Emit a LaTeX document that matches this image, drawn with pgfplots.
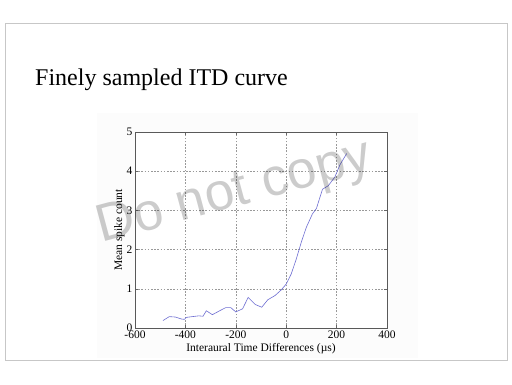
\documentclass[border=0pt]{standalone}
\usepackage{fontspec}
\setmainfont{Liberation Serif}
\newfontfamily\wmfont{Liberation Sans}
\usepackage{pgfplots}
\pgfplotsset{compat=1.18}
\definecolor{curve}{RGB}{110,110,210}
\begin{document}
\begin{tikzpicture}[x=1pt,y=1pt]
\fill[white] (0,0) rectangle (512,384);
% slide frame with shadow
\fill[black!12] (6,23) rectangle (508,360);
\filldraw[fill=white,draw=black!22,line width=0.8pt] (5,24) rectangle (507,361);
\fill[black!1] (97,26) rectangle (418,271);
\node[anchor=base west,inner sep=0,font=\fontsize{24}{28}\selectfont] at (35,299) {Finely sampled ITD curve};
\begin{axis}[
  at={(135pt,56pt)}, anchor=south west,
  width=252pt, height=196pt, scale only axis,
  axis background/.style={fill=white},
  xmin=-600, xmax=400, ymin=0, ymax=5,
  xtick={-600,-400,-200,0,200,400},
  xticklabels={-600,-400,-200,0,200,400},
  ytick={0,1,2,3,4,5},
  yticklabels={0,1,2,3,4,5},
  tick label style={font=\fontsize{11.5}{12}\selectfont},
  xticklabel style={yshift=1pt},
  yticklabel style={xshift=1pt},
  tick align=inside, major tick length=3pt,
  tick style={black!60, line width=0.5pt},
  axis line style={black!65, line width=0.7pt},
  grid=major,
  major grid style={black!40, line width=0.45pt, dash pattern=on 1.6pt off 1.6pt},
  xlabel={Interaural Time Differences (\textmu s)},
  ylabel={Mean spike count},
  label style={font=\fontsize{11.5}{12}\selectfont},
  xlabel style={at={(axis description cs:0.5,-0.122)}, anchor=base},
  ylabel style={at={(axis description cs:-0.062,0.5)}, anchor=center},
]
\addplot[curve, line width=0.6pt] coordinates {
(-489,0.19) (-464,0.29) (-440,0.28) (-416,0.23) (-404,0.22) (-397,0.27)
(-373,0.29) (-347,0.31) (-330,0.30) (-317,0.44) (-293,0.34) (-267,0.43)
(-240,0.52) (-220,0.52) (-200,0.41) (-173,0.49) (-151,0.78) (-123,0.60)
(-97,0.53) (-73,0.72) (-44,0.83) (-20,0.97) (0,1.12) (20,1.38) (40,1.76)
(60,2.19) (80,2.57) (104,2.91) (120,3.05) (144,3.54) (167,3.63) (193,3.85)
(213,4.16) (240,4.45)
};
\end{axis}
\node[anchor=base west,inner sep=0,rotate=15,text=black,opacity=0.2,font=\wmfont\fontsize{53}{53}\selectfont] at (101,141) {Do not copy};
\end{tikzpicture}
\end{document}
